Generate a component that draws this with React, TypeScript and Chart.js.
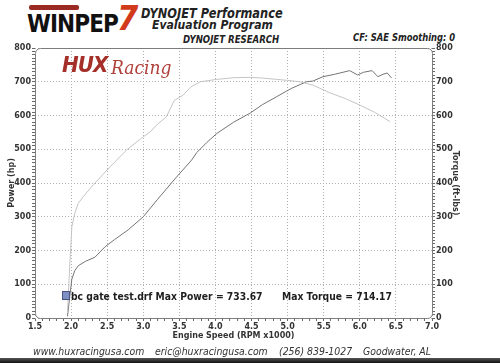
import React, { useEffect, useRef } from "react";
import { Chart, registerables } from "chart.js";

Chart.register(...registerables);

// ---- data read from the dyno sheet ----
const powerRpm = [1.95, 1.98, 2.01, 2.05, 2.1, 2.2, 2.33, 2.47, 2.6, 2.79, 3.0, 3.2, 3.45, 3.67, 3.74, 3.88, 4.02, 4.25, 4.48, 4.65, 4.85, 5.05, 5.26, 5.35, 5.49, 5.65, 5.86, 5.97, 6.05, 6.17, 6.25, 6.32, 6.38, 6.44];
const powerHp = [5, 60, 115, 140, 155, 168, 180, 211, 232, 261, 300, 352, 415, 468, 490, 520, 547, 580, 607, 632, 656, 680, 700, 702, 715, 722, 733, 720, 728, 733, 715, 722, 726, 711];

const torqueRpm = [1.95, 1.98, 2.01, 2.05, 2.1, 2.17, 2.31, 2.54, 2.77, 3.0, 3.09, 3.2, 3.32, 3.43, 3.55, 3.66, 3.79, 4.02, 4.25, 4.48, 4.65, 4.85, 5.0, 5.17, 5.35, 5.59, 5.8, 6.0, 6.2, 6.42];
const torqueFtLbs = [15, 150, 270, 310, 340, 360, 395, 448, 498, 537, 550, 575, 596, 645, 660, 685, 700, 707, 712, 713, 711, 707, 704, 700, 690, 667, 650, 631, 610, 582];

const rpmLabels = [1.5, 2.0, 2.5, 3.0, 3.5, 4.0, 4.5, 5.0, 5.5, 6.0, 6.5, 7.0];
const valueLabels = [0, 100, 200, 300, 400, 500, 600, 700, 800];

const runName = "bc gate test.drf";
const maxPower = "733.67";
const maxTorque = "714.17";

const FONT = "'DejaVu Sans', Verdana, sans-serif";

const isMajor = (v: number, list: number[]) => list.some((m) => Math.abs(m - v) < 1e-6);

const minorTicks = (min: number, max: number, step: number) => {
  const out: { value: number }[] = [];
  const n = Math.round((max - min) / step);
  for (let i = 0; i <= n; i++) out.push({ value: +(min + i * step).toFixed(4) });
  return out;
};

const framePlugin = {
  id: "frame",
  beforeDatasetsDraw(chart: any) {
    const { ctx, chartArea: a } = chart;
    ctx.save();
    ctx.strokeStyle = "#7d7d7d";
    ctx.lineWidth = 1;
    ctx.beginPath();
    (ctx as any).roundRect(a.left + 0.5, a.top + 0.5, a.right - a.left, a.bottom - a.top, 5);
    ctx.stroke();
    ctx.restore();
  },
};

function T(props: { x: number; y: number; size: number; text: string; bold?: boolean; italic?: boolean; color?: string; sx?: number; family?: string; ls?: number }) {
  const { x, y, size, text, bold, italic, color = "#222", sx = 0.85, family = FONT, ls = 0 } = props;
  return (
    <div
      style={{
        position: "absolute",
        left: x,
        top: y - size / 2,
        fontFamily: family,
        fontSize: size,
        lineHeight: `${size}px`,
        fontWeight: bold ? "bold" : "normal",
        fontStyle: italic ? "italic" : "normal",
        color,
        whiteSpace: "nowrap",
        letterSpacing: ls,
        transform: `scaleX(${sx})`,
        transformOrigin: "left center",
      }}
    >
      {text}
    </div>
  );
}

export default function App() {
  const ref = useRef<HTMLCanvasElement | null>(null);

  useEffect(() => {
    if (!ref.current) return;
    const tickFont = { family: FONT, size: 8, weight: "bold" as const };
    const titleFont = { family: FONT, size: 8, weight: "bold" as const };
    const gridCommon = (labels: number[]) => ({
      color: (c: any) => (c.tick && isMajor(c.tick.value, labels) ? "#b0b0b0" : "rgba(0,0,0,0)"),
      tickColor: "#6a6a6a",
      tickLength: 3,
      tickWidth: 1,
      lineWidth: 1,
    });

    const chart = new Chart(ref.current, {
      type: "line",
      data: {
        datasets: [
          {
            label: "Torque",
            data: torqueRpm.map((r, i) => ({ x: r, y: torqueFtLbs[i] })),
            borderColor: "#c4c4c4",
            borderWidth: 1,
            pointRadius: 0,
            yAxisID: "y2",
            tension: 0,
          },
          {
            label: "Power",
            data: powerRpm.map((r, i) => ({ x: r, y: powerHp[i] })),
            borderColor: "#747474",
            borderWidth: 1,
            pointRadius: 0,
            yAxisID: "y",
            tension: 0,
          },
        ],
      },
      options: {
        animation: false,
        responsive: false,
        devicePixelRatio: 1,
        layout: { padding: { top: 48, left: 0, right: 0, bottom: 0 } },
        plugins: { legend: { display: false }, tooltip: { enabled: false } },
        scales: {
          x: {
            type: "linear",
            position: "bottom",
            min: 1.5,
            max: 7.0,
            afterBuildTicks: (s: any) => { s.ticks = minorTicks(1.5, 7.0, 0.1); },
            afterFit: (s: any) => { s.height = 45; },
            ticks: {
              autoSkip: false,
              maxRotation: 0,
              padding: 1,
              color: "#333",
              font: tickFont,
              callback: (v: any) => (isMajor(Number(v), rpmLabels) ? Number(v).toFixed(1) : ""),
            },
            grid: gridCommon(rpmLabels),
            border: { display: false, dash: [1, 2] },
            title: { display: true, text: "Engine Speed (RPM x1000)", color: "#333", font: titleFont, padding: { top: 0, bottom: 22 } },
          },
          y: {
            type: "linear",
            position: "left",
            min: 0,
            max: 800,
            afterBuildTicks: (s: any) => { s.ticks = minorTicks(0, 800, 10); },
            afterFit: (s: any) => { s.width = 35; },
            ticks: {
              autoSkip: false,
              padding: 1,
              color: "#333",
              font: tickFont,
              callback: (v: any) => (isMajor(Number(v), valueLabels) ? String(v) : ""),
            },
            grid: gridCommon(valueLabels),
            border: { display: false, dash: [1, 2] },
            title: { display: true, text: "Power (hp)", color: "#333", font: titleFont, padding: { top: 7, bottom: 0 } },
          },
          y2: {
            type: "linear",
            position: "right",
            min: 0,
            max: 800,
            afterBuildTicks: (s: any) => { s.ticks = minorTicks(0, 800, 10); },
            afterFit: (s: any) => { s.width = 68; },
            ticks: {
              autoSkip: false,
              padding: 1,
              color: "#333",
              font: tickFont,
              callback: (v: any) => (isMajor(Number(v), valueLabels) ? String(v) : ""),
            },
            grid: { ...gridCommon(valueLabels), drawOnChartArea: false },
            border: { display: false },
            title: { display: true, text: "Torque (ft-lbs)", color: "#333", font: titleFont, padding: { top: 40, bottom: 0 } },
          },
        },
      } as any,
      plugins: [framePlugin],
    });
    return () => chart.destroy();
  }, []);

  return (
    <div style={{ position: "absolute", left: 0, top: 0, width: 500, height: 363, background: "#fff", overflow: "hidden" }}>
      {/* WINPEP 7 logo */}
      <div style={{ position: "absolute", left: 29, top: 5, width: 50, height: 5, background: "#9b2a22", borderRadius: 2 }} />
      <T x={27} y={24} size={24} text="WINPEP" bold color="#111" sx={0.9} ls={-1} />
      <T x={117} y={18} size={34} text="7" bold italic color="#d23a1c" sx={0.9} />
      <T x={141} y={14} size={13.4} text="DYNOJET Performance" bold italic />
      <T x={152} y={25} size={12.8} text="Evaluation Program" bold italic />
      <T x={183} y={40.5} size={10.1} text="DYNOJET RESEARCH" bold italic />
      <T x={353} y={38} size={9.9} text="CF: SAE  Smoothing: 0" bold italic />

      <canvas ref={ref} width={500} height={363} style={{ position: "absolute", left: 0, top: 0, width: 500, height: 363 }} />

      {/* HUX Racing logo */}
      <T x={62} y={65} size={21} text="HUX" bold italic color="#a5302a" sx={0.95} ls={-1} />
      <T x={111} y={68} size={18} text="Racing" italic color="#b0403a" sx={0.95} family="'DejaVu Serif', serif" />

      {/* run legend */}
      <div style={{ position: "absolute", left: 62, top: 291, width: 6, height: 7, background: "#7d8fc3", border: "1px solid #4a5680" }} />
      <T x={71} y={296} size={11} text={`${runName} Max Power = ${maxPower}`} bold color="#1e1e1e" sx={0.84} />
      <T x={282} y={296} size={11} text={`Max Torque = ${maxTorque}`} bold color="#1e1e1e" sx={0.84} />

      {/* footer */}
      <T x={33} y={351} size={11} text="www.huxracingusa.com" italic color="#333" />
      <T x={155} y={351} size={11} text="eric@huxracingusa.com" italic color="#333" />
      <T x={279} y={351} size={11} text="(256) 839-1027" italic color="#333" />
      <T x={363} y={351} size={11} text="Goodwater, AL" italic color="#333" />
      <div style={{ position: "absolute", left: 0, top: 358, width: 500, height: 5, background: "linear-gradient(#555, #111)" }} />
    </div>
  );
}
